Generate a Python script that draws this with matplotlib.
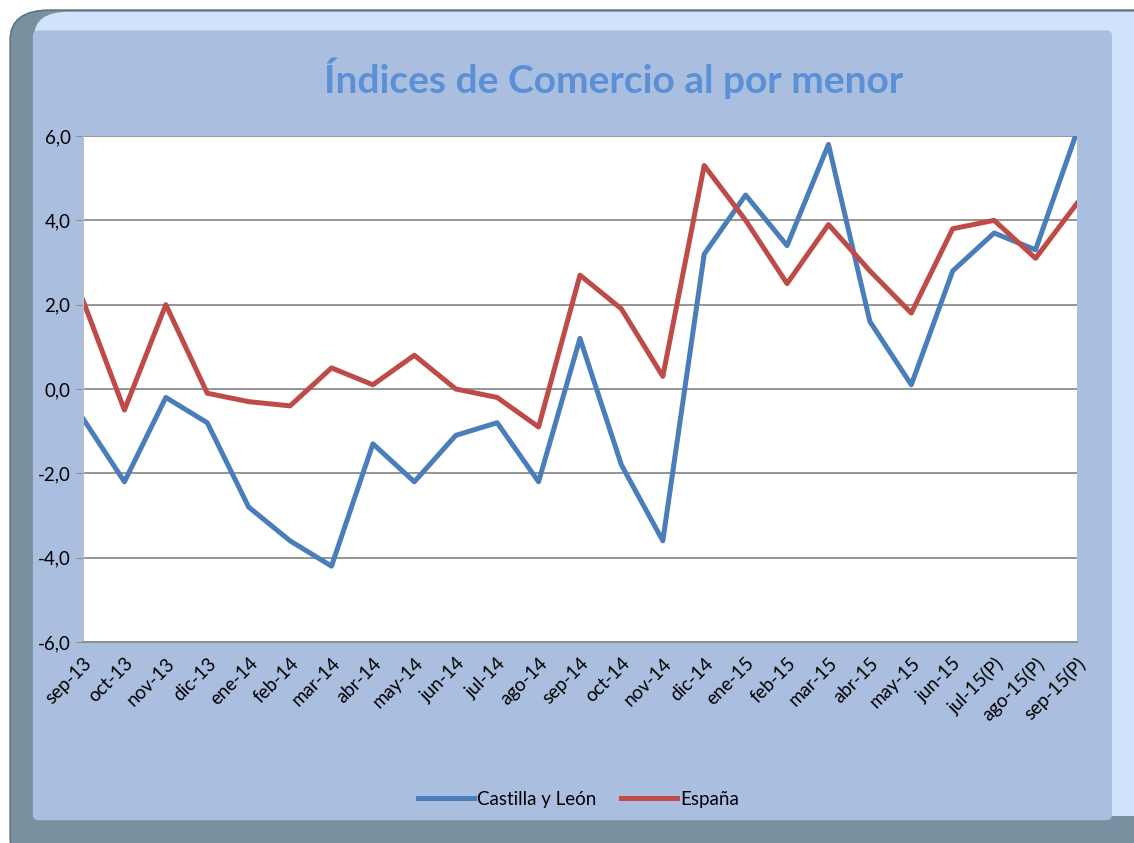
import numpy as np
import matplotlib
matplotlib.use("Agg")
from matplotlib import pyplot as plt
from matplotlib.patches import FancyBboxPatch

plt.rcParams['font.family'] = ['Lato', 'DejaVu Sans']

meses = ["sep-13", "oct-13", "nov-13", "dic-13", "ene-14", "feb-14", "mar-14",
         "abr-14", "may-14", "jun-14", "jul-14", "ago-14", "sep-14", "oct-14",
         "nov-14", "dic-14", "ene-15", "feb-15", "mar-15", "abr-15", "may-15",
         "jun-15", "jul-15(P)", "ago-15(P)", "sep-15(P)"]

castilla_leon = [-0.7, -2.2, -0.2, -0.8, -2.8, -3.6, -4.2, -1.3, -2.2, -1.1,
                 -0.8, -2.2, 1.2, -1.8, -3.6, 3.2, 4.6, 3.4, 5.8, 1.6,
                 0.1, 2.8, 3.7, 3.3, 6.1]
espana = [2.1, -0.5, 2.0, -0.1, -0.3, -0.4, 0.5, 0.1, 0.8, 0.0,
          -0.2, -0.9, 2.7, 1.9, 0.3, 5.3, 4.0, 2.5, 3.9, 2.8,
          1.8, 3.8, 4.0, 3.1, 4.4]

y_ticks = [-6, -4, -2, 0, 2, 4, 6]

fig = plt.figure(figsize=(11.34, 8.43), dpi=100)
fig.patch.set_facecolor("white")

# marco: borde oscuro abajo/izquierda, claro arriba/derecha
marco = FancyBboxPatch((0.009, -0.03), 1.05, 1.018,
                       boxstyle="round,pad=0,rounding_size=0.035",
                       transform=fig.transFigure, facecolor="#7890a0",
                       edgecolor="#5e7480", linewidth=1.2, zorder=-3)
fig.patches.append(marco)
luz = FancyBboxPatch((0.030, 0.032), 1.05, 0.954,
                     boxstyle="round,pad=0,rounding_size=0.03",
                     transform=fig.transFigure, facecolor="#cfe3fb",
                     edgecolor="none", zorder=-2)
fig.patches.append(luz)
fondo = FancyBboxPatch((0.029, 0.027), 0.9516, 0.937,
                       boxstyle="round,pad=0,rounding_size=0.006",
                       transform=fig.transFigure, facecolor="#aabfe0",
                       edgecolor="none", zorder=-1)
fig.patches.append(fondo)

ax = fig.add_axes([0.0732, 0.2384, 0.8765, 0.6003])
ax.set_facecolor("white")

x = np.arange(len(meses))
ax.plot(x, castilla_leon, color="#4a7ebb", linewidth=3.6, label="Castilla y León")
ax.plot(x, espana, color="#be4b48", linewidth=3.6, label="España")

ax.set_xlim(0, len(meses) - 1)
ax.set_ylim(-6, 6)
ax.set_yticks(y_ticks)
ax.set_yticklabels([("%.1f" % v).replace(".", ",") for v in y_ticks])
ax.yaxis.grid(True, color="#8c8c8c", linewidth=1.3)
ax.set_axisbelow(True)

ax.set_xticks(x)
ax.set_xticklabels(meses, rotation=45, ha="right", va="top", rotation_mode="anchor")
ax.tick_params(axis="x", length=0, pad=9, labelsize=13.5)
ax.tick_params(axis="y", length=5, color="#8c8c8c", labelsize=13.5, pad=4)

for s in ["top", "right"]:
    ax.spines[s].set_visible(False)
ax.spines["left"].set_color("#bfbfbf")
ax.spines["bottom"].set_color("#8c8c8c")
ax.spines["bottom"].set_linewidth(1.3)

fig.text(0.541, 0.907, "Índices de Comercio al por menor", ha="center", va="center",
         fontsize=28, fontweight="bold", color="#5b8fd6")

leg = fig.legend(loc="center", bbox_to_anchor=(0.51, 0.052), ncol=2, frameon=False,
                 fontsize=13.5, handlelength=3.0, handletextpad=0.15, columnspacing=1.3)

plt.savefig("out.png", dpi=100, facecolor=fig.get_facecolor())
